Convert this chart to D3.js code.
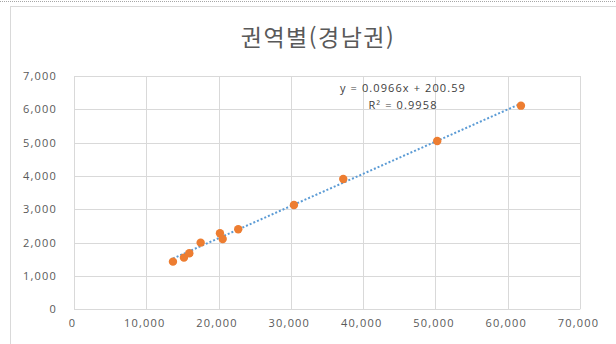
<!DOCTYPE html>
<html lang="ko">
<head>
    <meta charset="UTF-8">
    <title>권역별(경남권)</title>
    <script src="https://cdn.jsdelivr.net/npm/d3@7"></script>
    <style>
        body { margin: 0; background: #fff; }
        text { font-family: "Open Sans", "Noto Sans", sans-serif; }
    </style>
</head>
<body>
<script type="application/javascript">

    let w = 616, h = 344;

    // values
    let xValues = [13690, 15210, 15950, 17520, 20190, 20570, 22720, 30430, 37250, 50250, 61830];
    let yValues = [1430, 1550, 1680, 2000, 2280, 2110, 2400, 3130, 3910, 5050, 6110];
    let xTicks = [0, 10000, 20000, 30000, 40000, 50000, 60000, 70000];
    let yTicks = [0, 1000, 2000, 3000, 4000, 5000, 6000, 7000];
    let slope = 0.0966, intercept = 200.59;
    let eqLines = ["y = 0.0966x + 200.59", "R² = 0.9958"];
    let title = "권역별(경남권)";

    let points = xValues.map(function(x, i) { return { x: x, y: yValues[i] }; });

    //Set up scales
    let xScale = d3.scaleLinear().domain([0, 70000]).range([74, 580]);
    let yScale = d3.scaleLinear().domain([0, 7000]).range([309.3, 76]);
    let fmt = d3.format(",");

    //Create SVG element
    let svg = d3.select("body")
        .append("svg")
        .attr("width", w)
        .attr("height", h);

    // dotted frame line at top + chart border
    svg.append("line")
        .attr("x1", 0).attr("x2", w)
        .attr("y1", 1.5).attr("y2", 1.5)
        .attr("stroke", "#a6a6a6")
        .attr("stroke-dasharray", "1,1");
    svg.append("rect")
        .attr("x", 10.5).attr("y", 6.5)
        .attr("width", 620).attr("height", 350)
        .attr("fill", "none")
        .attr("stroke", "#d9d9d9");

    svg.append("text")
        .attr("x", 318).attr("y", 46)
        .attr("text-anchor", "middle")
        .style("font-family", "'Noto Sans CJK KR', sans-serif")
        .style("font-size", "23px")
        .style("letter-spacing", "1.5px")
        .attr("fill", "#595959")
        .text(title);

    // gridlines
    svg.append("g")
        .selectAll("line")
        .data(yTicks)
        .enter()
        .append("line")
        .attr("x1", xScale(0)).attr("x2", xScale(70000))
        .attr("y1", function(d) { return Math.round(yScale(d)) + 0.5; })
        .attr("y2", function(d) { return Math.round(yScale(d)) + 0.5; })
        .attr("stroke", "#d9d9d9");

    svg.append("g")
        .selectAll("line")
        .data(xTicks)
        .enter()
        .append("line")
        .attr("x1", function(d) { return Math.round(xScale(d)) + 0.5; })
        .attr("x2", function(d) { return Math.round(xScale(d)) + 0.5; })
        .attr("y1", yScale(0)).attr("y2", yScale(7000))
        .attr("stroke", "#d9d9d9");

    // axes labels
    let xAxis = d3.axisBottom(xScale).tickValues(xTicks).tickFormat(fmt).tickSize(0).tickPadding(10);
    let yAxis = d3.axisLeft(yScale).tickValues(yTicks).tickFormat(fmt).tickSize(0).tickPadding(17);

    let gx = svg.append("g").attr("transform", "translate(-2," + yScale(0) + ")").call(xAxis);
    let gy = svg.append("g").attr("transform", "translate(" + xScale(0) + ",0)").call(yAxis);
    [gx, gy].forEach(function(g) {
        g.select(".domain").remove();
        g.selectAll("text")
            .style("font-family", "'Open Sans', sans-serif")
            .style("font-size", "11px")
            .style("letter-spacing", "1.2px")
            .attr("fill", "#595959");
    });

    // trendline
    let xMin = d3.min(xValues), xMax = d3.max(xValues);
    svg.append("line")
        .attr("x1", xScale(xMin)).attr("y1", yScale(slope * xMin + intercept))
        .attr("x2", xScale(xMax)).attr("y2", yScale(slope * xMax + intercept))
        .attr("stroke", "#5b9bd5")
        .attr("stroke-width", 2)
        .attr("stroke-dasharray", "2,2");

    // points
    svg.append("g")
        .selectAll("circle")
        .data(points)
        .enter()
        .append("circle")
        .attr("cx", function(d) { return xScale(d.x); })
        .attr("cy", function(d) { return yScale(d.y); })
        .attr("r", 4.2)
        .attr("fill", "#ed7d31");

    // equation label
    svg.append("g")
        .selectAll("text")
        .data(eqLines)
        .enter()
        .append("text")
        .attr("x", 403)
        .attr("y", function(d, i) { return 92 + i * 17; })
        .attr("text-anchor", "middle")
        .style("font-size", "11px")
        .style("letter-spacing", "1.1px")
        .attr("fill", "#404040")
        .text(function(d) { return d; });

</script>
</body>
</html>
